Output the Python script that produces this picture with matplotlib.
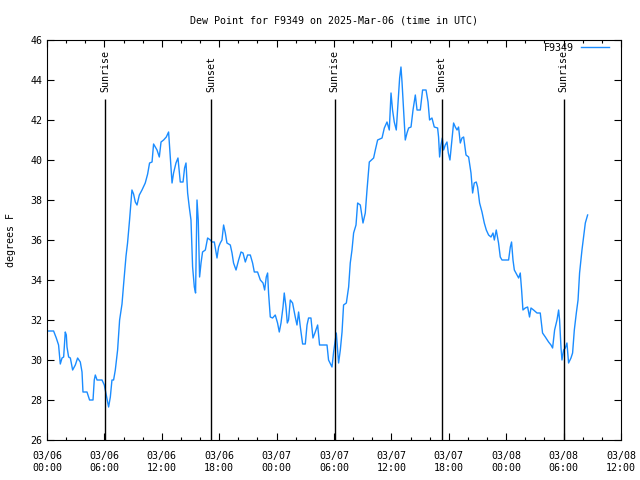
import datetime
import numpy as np
import matplotlib
matplotlib.use("Agg")
import matplotlib.pyplot as plt
import matplotlib.dates as mdates

# hours since 2025-03-06 00:00 UTC, dew point in degrees F
hours = [0.17, 0.69, 0.97, 1.21, 1.39, 1.57, 1.74, 1.91, 2.02, 2.09, 2.26, 2.44, 2.68, 2.96,
         3.20, 3.48, 3.66, 3.76, 4.18, 4.45, 4.81, 4.94, 5.05, 5.23, 5.75, 5.99, 6.17, 6.44,
         6.62, 6.79, 6.96, 7.14, 7.38, 7.59, 7.84, 8.01, 8.26, 8.42, 8.63, 8.88, 9.05, 9.23,
         9.41, 9.65, 9.93, 10.27, 10.52, 10.72, 10.98, 11.14, 11.50, 11.74, 11.92, 12.19,
         12.47, 12.71, 12.89, 13.07, 13.23, 13.48, 13.69, 13.93, 14.22, 14.38, 14.53, 14.70,
         14.87, 15.05, 15.22, 15.40, 15.53, 15.68, 15.81, 15.95, 16.10, 16.26, 16.55, 16.79,
         17.07, 17.25, 17.49, 17.77, 17.94, 18.11, 18.29, 18.46, 18.64, 18.81, 19.16, 19.34,
         19.50, 19.76, 20.03, 20.28, 20.49, 20.73, 20.97, 21.25, 21.49, 21.67, 22.01, 22.30,
         22.58, 22.75, 22.92, 23.06, 23.16, 23.34, 23.58, 23.86, 24.10, 24.28, 24.46, 24.67,
         24.80, 24.98, 25.12, 25.25, 25.43, 25.67, 25.95, 26.13, 26.30, 26.48, 26.72, 27.00,
         27.18, 27.34, 27.59, 27.80, 28.04, 28.29, 28.49, 29.27, 29.43, 29.79, 29.96, 30.13,
         30.24, 30.48, 30.66, 30.84, 31.00, 31.29, 31.53, 31.70, 31.88, 32.05, 32.30, 32.47,
         32.75, 33.03, 33.27, 33.45, 33.69, 34.14, 34.32, 34.56, 35.02, 35.26, 35.54, 35.78,
         35.96, 36.12, 36.30, 36.51, 36.69, 36.86, 37.00, 37.11, 37.27, 37.45, 37.63, 37.80,
         38.05, 38.26, 38.50, 38.68, 39.02, 39.26, 39.62, 39.83, 39.99, 40.24, 40.48, 40.83,
         40.93, 41.04, 41.18, 41.32, 41.46, 41.63, 41.81, 41.95, 42.12, 42.29, 42.50, 42.68,
         42.86, 43.02, 43.20, 43.38, 43.55, 43.80, 44.07, 44.32, 44.49, 44.66, 44.87, 45.01,
         45.22, 45.47, 45.71, 45.92, 46.16, 46.41, 46.62, 46.76, 46.96, 47.20, 47.38, 47.56,
         48.25, 48.43, 48.56, 48.71, 48.85, 49.13, 49.30, 49.47, 49.61, 49.75, 49.99, 50.24,
         50.44, 50.59, 50.86, 51.22, 51.56, 51.80, 52.09, 52.43, 52.68, 52.85, 53.06, 53.31,
         53.48, 53.58, 53.73, 53.83, 54.00, 54.18, 54.35, 54.52, 54.77, 54.94, 55.12, 55.33,
         55.51, 55.67, 55.92, 56.09, 56.27, 56.51]
dewpt = [31.45, 31.45, 31.1, 30.75, 29.8, 30.1, 30.15, 31.4, 31.25, 30.65, 30.15, 30.1, 29.5, 29.75,
         30.1, 29.9, 29.4, 28.4, 28.4, 28.0, 28.0, 29.0, 29.25, 29.0, 29.0, 28.75, 28.3, 27.65,
         28.15, 29.0, 29.0, 29.5, 30.5, 32.0, 32.8, 33.8, 35.2, 35.85, 37.0, 38.5, 38.3, 37.9,
         37.75, 38.25, 38.5, 38.85, 39.3, 39.85, 39.9, 40.8, 40.5, 40.15, 40.9, 41.0,
         41.15, 41.4, 40.15, 38.85, 39.35, 39.85, 40.1, 38.9, 38.9, 39.6, 39.85, 38.35,
         37.65, 37.0, 34.65, 33.65, 33.35, 38.0, 37.0, 34.15, 34.85, 35.4, 35.5, 36.1,
         36.0, 35.9, 35.9, 35.1, 35.65, 35.85, 36.0, 36.75, 36.35, 35.85, 35.75, 35.35,
         34.85, 34.5, 35.0, 35.4, 35.35, 34.9, 35.25, 35.25, 34.85, 34.4, 34.4, 34.0,
         33.85, 33.5, 34.15, 34.35, 33.35, 32.15, 32.1, 32.25, 31.85, 31.4, 31.85, 32.65,
         33.35, 32.65, 31.85, 32.0, 33.0, 32.85, 32.15, 31.75, 32.4, 31.65, 30.8, 30.8,
         31.75, 32.1, 32.1, 31.1, 31.4, 31.75, 30.75, 30.75, 30.0, 29.65, 30.4, 31.0,
         31.35, 29.85, 30.5, 31.4, 32.75, 32.85, 33.65, 34.85, 35.5, 36.35, 36.75, 37.85,
         37.75, 36.85, 37.35, 38.5, 39.9, 40.1, 40.5, 41.0, 41.1, 41.6, 41.9, 41.5,
         43.35, 42.5, 41.9, 41.5, 42.85, 44.1, 44.65, 43.9, 42.5, 41.0, 41.35, 41.6,
         41.65, 42.5, 43.25, 42.5, 42.5, 43.5, 43.5, 42.9, 42.0, 42.1, 41.65, 41.6,
         41.15, 40.15, 40.75, 41.1, 40.5, 40.75, 40.9, 40.35, 40.0, 40.85, 41.85, 41.65,
         41.5, 41.65, 40.85, 41.1, 41.15, 40.25, 40.15, 39.35, 38.35, 38.85, 38.9, 38.65,
         37.85, 37.4, 36.85, 36.5, 36.25, 36.15, 36.35, 36.0, 36.5, 35.85, 35.15, 35.0,
         35.0, 35.65, 35.9, 35.0, 34.5, 34.25, 34.1, 34.35, 33.5, 32.5, 32.6, 32.65,
         32.15, 32.6, 32.5, 32.35, 32.35, 31.35, 31.15, 30.9, 30.75, 30.6, 31.5, 32.0,
         32.5, 32.0, 30.6, 30.0, 30.5, 30.6, 30.85, 29.85, 30.1, 30.35, 31.5, 32.35,
         33.0, 34.35, 35.5, 36.15, 36.85, 37.25]

# sun events, hours since start
sun_hours = [6.05, 17.15, 30.07, 41.25, 54.0]
sun_labels = ["Sunrise", "Sunset", "Sunrise", "Sunset", "Sunrise"]

start = datetime.datetime(2025, 3, 6, 0, 0)
times = [start + datetime.timedelta(hours=h) for h in hours]
sun_times = [start + datetime.timedelta(hours=h) for h in sun_hours]

plt.rcParams['font.family'] = ['DejaVu Sans Mono']
fs = 7.2

fig = plt.figure(figsize=(6.4, 4.8), dpi=100)
ax = fig.add_axes([47/640, 40/480, 574/640, 400/480])

ax.plot(times, dewpt, color='#1a8cff', linewidth=1.0, label='F9349')

for t, lab in zip(sun_times, sun_labels):
    ax.vlines(t, 26, 43.03, color='black', linewidth=1.0)
    ax.text(t, 43.4, lab, rotation=90, ha='center', va='bottom', fontsize=fs)

ax.set_xlim(start, start + datetime.timedelta(hours=60))
ax.set_ylim(26, 46)
ax.set_yticks(np.arange(26, 47, 2))
ax.xaxis.set_major_locator(mdates.HourLocator(byhour=[0, 6, 12, 18]))
ax.xaxis.set_minor_locator(mdates.HourLocator(interval=2))
ax.xaxis.set_major_formatter(mdates.DateFormatter('%m/%d\n%H:%M'))
ax.tick_params(which='both', direction='in', top=True, right=True, labelsize=fs)
ax.tick_params(which='major', length=5, width=0.8)
ax.tick_params(which='minor', length=2.5, width=0.8)
ax.tick_params(axis='x', pad=8)

ax.set_title('Dew Point for F9349 on 2025-Mar-06 (time in UTC)', fontsize=fs, pad=12)
ax.set_ylabel('degrees F', fontsize=fs, labelpad=10)

ax.legend(loc='upper right', bbox_to_anchor=(0.99, 1.008), frameon=False, markerfirst=False,
          fontsize=fs, handlelength=2.8, borderaxespad=0.2, handletextpad=0.7)

plt.savefig('out.png', dpi=100)
